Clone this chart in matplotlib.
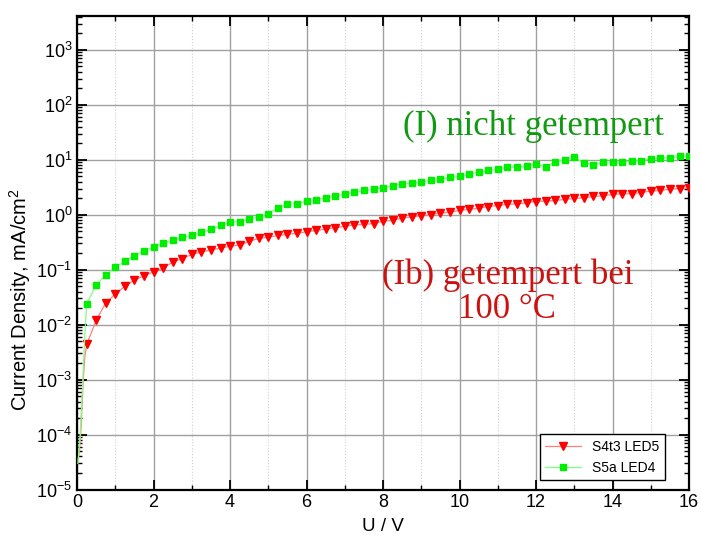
import matplotlib
matplotlib.use("Agg")
import matplotlib.pyplot as plt
from matplotlib.ticker import LogLocator, MultipleLocator

plt.rcParams['font.family'] = ['Liberation Sans', 'DejaVu Sans']
plt.rcParams['mathtext.default'] = 'regular'

# low-voltage ramp (line only) + measured points every 0.25 V (with markers)
u_red_ramp = [0.03, 0.06, 0.10, 0.16, 0.20]
j_red_ramp = [3.5e-5, 5e-5, 1.2e-4, 1e-3, 2.5e-3]
u_green_ramp = [0.02, 0.08, 0.15, 0.20]
j_green_ramp = [3e-5, 1e-4, 1e-3, 6e-3]

u_steps = [0.25 * (i + 1) for i in range(64)]

j_red = [0.0044, 0.012, 0.025, 0.036, 0.05, 0.065, 0.077, 0.092,
         0.107, 0.138, 0.16, 0.19, 0.21, 0.23, 0.245, 0.27,
         0.28, 0.33, 0.37, 0.39, 0.42, 0.44, 0.46, 0.49,
         0.52, 0.55, 0.58, 0.62, 0.65, 0.67, 0.69, 0.76,
         0.79, 0.87, 0.91, 0.96, 1.01, 1.07, 1.11, 1.2,
         1.25, 1.32, 1.41, 1.47, 1.54, 1.58, 1.65, 1.74,
         1.77, 1.82, 1.9, 1.98, 2.04, 2.15, 2.21, 2.34,
         2.4, 2.42, 2.54, 2.69, 2.77, 2.92, 3.0, 3.1]

j_green = [0.024, 0.053, 0.08, 0.11, 0.144, 0.18, 0.22, 0.26,
           0.30, 0.35, 0.39, 0.42, 0.48, 0.54, 0.64, 0.73,
           0.75, 0.84, 0.91, 1.04, 1.34, 1.54, 1.6, 1.75,
           1.87, 2.04, 2.18, 2.4, 2.57, 2.77, 2.9, 3.1,
           3.4, 3.7, 3.75, 4.0, 4.2, 4.4, 4.8, 5.0,
           5.4, 6.0, 6.4, 6.7, 7.3, 7.3, 7.7, 8.5,
           7.3, 9.3, 10.0, 11.2, 8.7, 8.2, 9.1, 9.0,
           9.1, 9.4, 9.7, 10.4, 10.7, 10.9, 11.5, 11.6]

labels = ["S4t3 LED5", "S5a LED4"]

fig = plt.figure(figsize=(7.01, 5.38), dpi=100)
ax = fig.add_axes([0.110, 0.090, 0.873, 0.881])

ax.plot(u_red_ramp + u_steps, j_red_ramp + j_red, color='#ff8080', lw=0.9,
        marker='v', ms=5.5, mfc='#ff0000', mec='#ff0000',
        markevery=slice(len(u_red_ramp), None), label=labels[0], zorder=3)
ax.plot(u_green_ramp + u_steps, j_green_ramp + j_green, color='#80ff80', lw=0.9,
        marker='s', ms=4.3, mfc='#00ee00', mec='#00ee00',
        markevery=slice(len(u_green_ramp), None), label=labels[1], zorder=3)

ax.set_yscale('log')
ax.set_xlim(0, 16)
ax.set_ylim(1e-5, 4.2e3)
ax.xaxis.set_major_locator(MultipleLocator(2))
ax.xaxis.set_minor_locator(MultipleLocator(1))
ax.yaxis.set_major_locator(LogLocator(base=10, numticks=20))
ax.yaxis.set_minor_locator(LogLocator(base=10, subs=range(2, 10), numticks=20))

ax.grid(True, which='major', color='#a0a0a0', lw=1.0)
ax.grid(True, which='minor', axis='x', color='#d0d0d0', lw=0.8, ls=':')

ax.tick_params(which='both', direction='in', top=True, right=True, labelsize=13)
ax.tick_params(which='major', length=7, width=1.3)
ax.tick_params(which='minor', length=3.5, width=1.0)
for s in ax.spines.values():
    s.set_linewidth(1.6)

ax.set_xlabel("U / V", fontsize=13.5, labelpad=5)
ax.set_ylabel("Current Density, mA/cm$^2$", fontsize=14.5)
ax.yaxis.set_label_coords(-0.072, 0.40)

ax.text(0.745, 0.748, "(I) nicht getempert", transform=ax.transAxes,
        family='Liberation Serif', fontsize=25, color='#119911', ha='center', va='baseline')
ax.text(0.703, 0.362, "(Ib) getempert bei\n100 \u00b0C", transform=ax.transAxes,
        family='Liberation Serif', fontsize=25, color='#cc1111', ha='center', va='baseline',
        linespacing=1.05)

leg = ax.legend(loc='lower right', bbox_to_anchor=(0.961, 0.020), fontsize=10,
                fancybox=False, framealpha=1, edgecolor='black', borderaxespad=0,
                handlelength=2.6)
leg.get_frame().set_linewidth(1.0)

fig.savefig("out.png", dpi=100)
